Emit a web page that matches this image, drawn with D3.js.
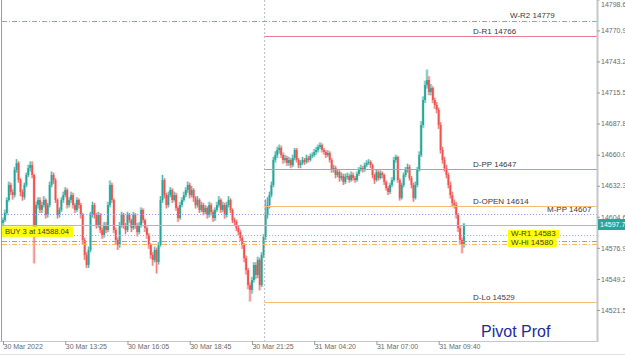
<!DOCTYPE html>
<html><head><meta charset="utf-8">
<script src="https://cdn.jsdelivr.net/npm/d3@7/dist/d3.min.js"></script>
<style>
body{margin:0;background:#fff}
svg{display:block}
text{font-family:"Liberation Sans",Arial,sans-serif}
</style>
</head><body>
<svg id="chart" width="625" height="355"></svg>
<script>
// ---------- DATA ----------
const timeLabels = ["30 Mar 2022","30 Mar 13:25","30 Mar 16:05","30 Mar 18:45","30 Mar 21:25","31 Mar 04:20","31 Mar 07:00","31 Mar 09:40"];
const timeTickBars = [0,32,64,96,128,160,192,224];
const priceTicks = [14521.5,14549.2,14576.9,14604.6,14632.3,14660.0,14687.8,14715.5,14743.2,14770.9,14798.6];
const dayBreakBar = 134.5;
const firstOpen = 14599.1;
const closes = [
14601.7,14608.0,14619.6,14633.0,14626.7,14624.0,14646.4,14652.6,14637.4,14626.7,
14622.3,14633.0,14641.9,14648.1,14650.8,14641.9,14592.8,14615.1,14619.6,14610.7,
14615.1,14619.6,14606.2,14615.1,14633.0,14641.9,14637.4,14619.6,14606.2,14610.7,
14619.6,14624.0,14628.5,14615.1,14619.6,14624.0,14615.1,14610.7,14619.6,14615.1,
14606.2,14583.9,14570.5,14561.6,14575.0,14606.2,14615.1,14606.2,14597.3,14606.2,
14592.8,14588.4,14597.3,14592.8,14615.1,14633.0,14619.6,14592.8,14583.9,14579.4,
14597.3,14606.2,14597.3,14592.8,14606.2,14601.7,14594.6,14606.2,14597.3,14591.0,
14597.3,14610.7,14601.7,14594.6,14588.4,14579.4,14570.5,14566.1,14575.0,14564.3,
14579.4,14619.6,14637.4,14624.0,14615.1,14624.0,14628.5,14619.6,14624.0,14612.4,
14603.5,14615.1,14619.6,14624.0,14628.5,14633.0,14624.0,14628.5,14621.4,14615.1,
14619.6,14610.7,14615.1,14608.9,14612.4,14606.2,14615.1,14608.9,14603.5,14610.7,
14615.1,14619.6,14610.7,14615.1,14606.2,14615.1,14619.6,14610.7,14601.7,14600.0,
14594.6,14591.0,14585.7,14579.4,14567.8,14557.1,14543.7,14539.3,14548.2,14561.6,
14552.7,14566.1,14543.7,14570.5,14586.6,14606.2,14615.1,14624.0,14633.0,14655.3,
14659.7,14664.2,14666.0,14659.7,14655.3,14657.0,14652.6,14655.3,14650.8,14657.0,
14664.2,14655.3,14650.8,14652.6,14655.3,14653.5,14657.0,14655.3,14658.8,14659.7,
14662.4,14664.2,14666.9,14668.6,14664.2,14662.4,14659.7,14661.5,14655.3,14646.4,
14648.1,14641.9,14644.6,14639.2,14641.0,14635.6,14640.1,14641.0,14637.4,14641.9,
14639.2,14637.4,14642.8,14646.4,14648.1,14646.4,14650.8,14652.6,14653.5,14650.8,
14641.9,14637.4,14644.6,14639.2,14643.7,14641.9,14635.6,14630.3,14626.7,14633.0,
14637.4,14655.3,14657.9,14637.4,14621.4,14633.0,14641.9,14646.4,14649.0,14639.2,
14633.0,14621.4,14633.0,14646.4,14659.7,14686.5,14708.8,14722.2,14726.6,14715.9,
14719.5,14708.8,14704.3,14699.9,14686.5,14664.2,14655.3,14648.1,14641.9,14633.0,
14624.0,14616.9,14615.1,14606.2,14594.6,14583.9,14580.0,14597.7
];
const highs = [
14604,14611,14622,14636,14635,14629,14649,14656,14654,14639,
14629,14635,14644,14651,14654,14654,14643,14618,14622,14622,
14618,14623,14621,14617,14636,14645,14644,14639,14621,14613,
14622,14627,14631,14630,14622,14627,14626,14617,14622,14621,
14617,14608,14586,14573,14578,14609,14618,14617,14608,14609,
14608,14595,14600,14600,14618,14637,14635,14621,14595,14586,
14600,14609,14608,14599,14609,14608,14603,14609,14608,14599,
14600,14613,14612,14603,14596,14590,14581,14573,14578,14577,
14582,14623,14642,14639,14626,14627,14631,14630,14627,14626,
14614,14618,14622,14627,14631,14636,14635,14632,14630,14623,
14623,14621,14618,14617,14615,14614,14618,14617,14611,14613,
14618,14623,14621,14618,14617,14618,14623,14621,14612,14604,
14602,14597,14593,14588,14581,14570,14559,14546,14551,14564,
14564,14569,14568,14573,14589,14620,14622,14627,14636,14658,
14663,14667,14669,14668,14662,14660,14659,14658,14657,14660,
14666,14666,14657,14655,14658,14657,14660,14659,14661,14662,
14665,14667,14669,14671,14670,14666,14664,14664,14663,14657,
14651,14650,14647,14646,14644,14643,14643,14644,14643,14645,
14644,14641,14645,14649,14651,14650,14653,14655,14656,14655,
14652,14643,14647,14646,14646,14645,14643,14637,14632,14635,
14640,14658,14660,14659,14639,14635,14644,14649,14652,14651,
14641,14635,14636,14649,14663,14690,14712,14726,14736,14730,
14723,14721,14711,14707,14702,14689,14667,14658,14651,14644,
14636,14627,14620,14618,14608,14597,14586,14599
];
const lows = [
14596,14600,14606,14618,14624,14620,14622,14644,14635,14623,
14619,14620,14631,14640,14645,14639,14563,14590,14612,14608,
14608,14613,14603,14604,14613,14631,14634,14617,14603,14604,
14609,14617,14622,14612,14613,14617,14612,14608,14609,14612,
14603,14580,14566,14559,14559,14573,14604,14603,14594,14595,
14590,14585,14586,14590,14591,14613,14617,14590,14580,14575,
14577,14595,14594,14589,14591,14599,14591,14593,14594,14587,
14589,14595,14599,14591,14585,14576,14567,14561,14564,14554,
14562,14578,14617,14621,14612,14613,14622,14617,14618,14610,
14600,14602,14613,14618,14622,14626,14621,14622,14618,14612,
14613,14608,14609,14606,14607,14603,14604,14606,14600,14601,
14609,14613,14608,14609,14603,14604,14613,14608,14599,14597,
14592,14588,14583,14576,14564,14553,14540,14529,14536,14546,
14549,14550,14539,14542,14568,14584,14603,14612,14622,14631,
14653,14657,14661,14657,14652,14653,14650,14650,14648,14649,
14655,14653,14648,14648,14651,14651,14652,14653,14654,14657,
14658,14660,14662,14665,14662,14660,14657,14658,14653,14644,
14644,14639,14640,14636,14637,14633,14634,14638,14635,14636,
14637,14635,14636,14641,14645,14644,14645,14649,14651,14648,
14639,14634,14636,14637,14638,14639,14633,14628,14624,14625,
14631,14636,14653,14635,14619,14620,14631,14640,14644,14637,
14630,14618,14620,14631,14645,14658,14684,14706,14719,14713,
14713,14706,14701,14697,14683,14661,14652,14645,14639,14630,
14621,14614,14612,14603,14591,14580,14572,14577
];
const levelNames  = ["W-R2","D-R1","D-PP","D-OPEN","M-PP","W-R1","W-Hi","D-Lo"];
const levelValues = [14779,14766,14647,14614,14607,14583,14580,14529];
const currentPrice = 14597.7;
const buyText = "BUY 3 at 14588.04";
const buyPrice = 14588.04;
const brandText = "Pivot Prof";

// ---------- STYLES / LAYOUT ----------
const levelStyle = {
  "W-R2":  {color:"#ee7f96", dash:"5,2,1,2", full:true,  lx:510, dy:-3},
  "D-R1":  {color:"#e8808f", dash:null,      full:false, lx:473, dy:-2},
  "D-PP":  {color:"#93a3ea", dash:null,      full:false, lx:473, dy:-2},
  "D-OPEN":{color:"#f9bb78", dash:null,      full:false, lx:473, dy:-2},
  "M-PP":  {color:"#93a3ea", dash:"1.2,1.8", full:true,  lx:547, dy:-2},
  "W-R1":  {color:"#f17c92", dash:"5,2,1,2", full:true,  lx:511, dy:-4.6, hl:true},
  "W-Hi":  {color:"#f9b46a", dash:"5,2,1,2", full:true,  lx:511, dy:0.6,  hl:true},
  "D-Lo":  {color:"#f9bb78", dash:null,      full:false, lx:473, dy:-2}
};
const L = 2, R = 597, T = 0, B = 341;
const barStep = 1.945;
const svg = d3.select("#chart");

const x = d3.scaleLinear().domain([0, 305]).range([3, 3 + 305 * barStep]);
const y = d3.scaleLinear().domain([14493.8, 14798.0]).range([B, T]);

svg.append("defs").append("clipPath").attr("id","plot")
  .append("rect").attr("x",L).attr("y",T).attr("width",R-L).attr("height",B-T);

const plot = svg.append("g").attr("clip-path","url(#plot)");

// candles
const bars = closes.map((c,i)=>({i, o: i===0 ? firstOpen : closes[i-1], c, h: highs[i], l: lows[i]}));
const up = "#26a69a", dn = "#ef5350", upPale = "#a9dcd5", dnPale = "#f6b9b9";
const cg = plot.append("g");
cg.selectAll("rect.halo").data(bars).join("rect").attr("class","halo")
  .attr("x", d=>x(d.i)-1.6).attr("width",3.2)
  .attr("y", d=>y(d.h)).attr("height", d=>Math.max(1, y(d.l)-y(d.h)))
  .attr("fill", d=> d.c>=d.o ? upPale : dnPale).attr("opacity",0.6);
cg.selectAll("line.wick").data(bars).join("line").attr("class","wick")
  .attr("x1", d=>x(d.i)).attr("x2", d=>x(d.i))
  .attr("y1", d=>y(d.h)).attr("y2", d=>y(d.l))
  .attr("stroke", d=> d.c>=d.o ? up : dn).attr("stroke-width",0.9).attr("opacity",0.85);
cg.selectAll("rect.body").data(bars).join("rect").attr("class","body")
  .attr("x", d=>x(d.i)-0.9).attr("width",1.8)
  .attr("y", d=>y(Math.max(d.o,d.c))).attr("height", d=>Math.max(1, Math.abs(y(d.o)-y(d.c))))
  .attr("fill", d=> d.c>=d.o ? up : dn);

// day separator
const xSep = x(dayBreakBar);
plot.append("line").attr("x1",xSep).attr("x2",xSep).attr("y1",T).attr("y2",B)
  .attr("stroke","#bdbdbd").attr("stroke-dasharray","2,2").attr("stroke-width",1);

// level lines
const lv = levelNames.map((n,i)=>({n, v: levelValues[i], s: levelStyle[n]}));
plot.selectAll("line.level").data(lv).join("line").attr("class","level")
  .attr("x1", d=> d.s.full ? L : xSep).attr("x2", R)
  .attr("y1", d=>Math.round(y(d.v))+0.5).attr("y2", d=>Math.round(y(d.v))+0.5)
  .attr("stroke", d=>d.s.color).attr("stroke-width",1)
  .attr("stroke-dasharray", d=>d.s.dash);

// current price & buy lines
plot.append("line").attr("x1",L).attr("x2",R)
  .attr("y1",Math.round(y(currentPrice))+0.5).attr("y2",Math.round(y(currentPrice))+0.5)
  .attr("stroke","#80cdc3").attr("stroke-width",1);
plot.append("line").attr("x1",L).attr("x2",R)
  .attr("y1",Math.round(y(buyPrice))+0.5).attr("y2",Math.round(y(buyPrice))+0.5)
  .attr("stroke","#80cdc3").attr("stroke-dasharray","1.2,1.8").attr("stroke-width",1);

// level labels
const hlG = svg.append("g");
const labG = svg.append("g");
lv.forEach(d=>{
  const t = labG.append("text").attr("x", d.s.lx).attr("y", y(d.v)+d.s.dy)
    .attr("font-size","8px").attr("fill","#3a3a3a").text(d.n+" "+d.v);
  if (d.s.hl) {
    const bb = t.node().getBBox();
    hlG.append("rect").attr("x", bb.x-3).attr("y", bb.y+0.5)
      .attr("width", bb.width+6).attr("height", bb.height-0.5).attr("fill","#ffff00");
  }
});
// buy label
const buyG = svg.append("g");
const buyBg = buyG.append("rect");
const bt = buyG.append("text").attr("x",5).attr("y",y(buyPrice)-1.5)
  .attr("font-size","7.6px").attr("fill","#3a3a3a").text(buyText);
const bbb = bt.node().getBBox();
buyBg.attr("x",2).attr("y",bbb.y-0.5).attr("width",71).attr("height",bbb.height+1.5).attr("fill","#ffff00");

// frame
svg.append("line").attr("x1",1.5).attr("x2",1.5).attr("y1",0).attr("y2",B).attr("stroke","#9e9e9e");
svg.append("line").attr("x1",0).attr("x2",R).attr("y1",B+0.5).attr("y2",B+0.5).attr("stroke","#c4c8cc");
svg.append("line").attr("x1",R+0.5).attr("x2",R+0.5).attr("y1",0).attr("y2",B+1).attr("stroke","#c4c8cc").attr("stroke-width",2);
svg.append("line").attr("x1",0).attr("x2",625).attr("y1",354.5).attr("y2",354.5).attr("stroke","#e4e4e4");

// right axis
const ya = svg.append("g").attr("transform",`translate(${R},0)`)
  .call(d3.axisRight(y).tickValues(priceTicks).tickFormat(d3.format(".1f")).tickSize(3).tickPadding(1));
ya.select(".domain").remove();
ya.selectAll("line").attr("stroke","#9a9a9a");
ya.selectAll("text").attr("font-size","7px").attr("fill","#6a6a6a").attr("font-family","Liberation Sans, Arial, sans-serif");
// keep the top-most label inside the picture
ya.selectAll(".tick").filter(d => y(d) < 4).select("text").attr("y", 4 - y(priceTicks[priceTicks.length-1]));

// current price tag
const cy = y(currentPrice);
svg.append("rect").attr("x",R+1).attr("y",cy-5.5).attr("width",28).attr("height",11).attr("fill","#26a69a");
svg.append("text").attr("x",R+3).attr("y",cy+2.5).attr("font-size","7px").attr("fill","#ffffff").text(currentPrice.toFixed(1));

// bottom axis
const xa = svg.append("g").attr("transform",`translate(0,${B})`)
  .call(d3.axisBottom(x).tickValues(timeTickBars).tickFormat((d,i)=>timeLabels[i]).tickSize(4).tickPadding(2));
xa.select(".domain").remove();
xa.selectAll("line").attr("stroke","#9a9a9a");
xa.selectAll("text").attr("text-anchor","start").attr("dx","0").attr("font-size","7px").attr("fill","#6a6a6a")
  .attr("font-family","Liberation Sans, Arial, sans-serif").attr("y",3).attr("dy","0.71em");

// brand
svg.append("text").attr("x",481).attr("y",337).attr("font-size","16px").attr("fill","#1d2a9e").text(brandText);
</script>
</body></html>
